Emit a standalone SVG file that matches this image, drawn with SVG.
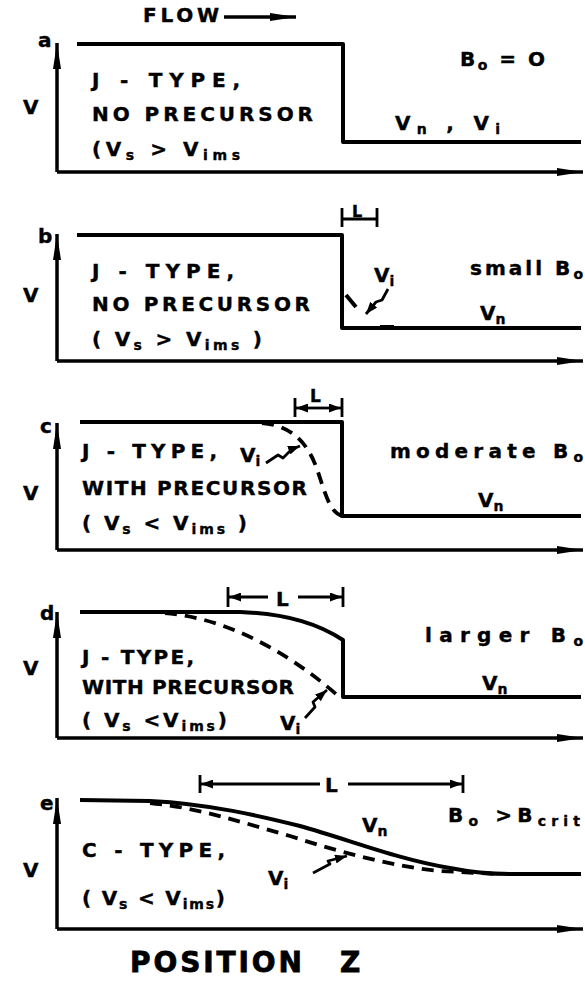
<svg xmlns="http://www.w3.org/2000/svg" width="585" height="981" viewBox="0 0 585 981">
<style>
.ln{fill:none;stroke:#000;stroke-width:4;stroke-linejoin:round}
.ax{fill:none;stroke:#000;stroke-width:3.5}
.ds{fill:none;stroke:#000;stroke-width:3.8;stroke-dasharray:12 8}
.br{fill:none;stroke:#000;stroke-width:2.8}
.ld{fill:none;stroke:#000;stroke-width:2.8;stroke-linejoin:round}
.t{font-family:"DejaVu Sans","Liberation Sans",Arial,sans-serif;font-weight:bold;font-size:20px;fill:#000;stroke:#000;stroke-width:0.4;paint-order:stroke}
.s{font-size:14px}
.big{font-size:28px;stroke-width:0.8}
</style>
<defs>
<marker id="ah" markerUnits="userSpaceOnUse" markerWidth="26" markerHeight="10" refX="26" refY="5" orient="auto"><path d="M0,1 L26,5 L0,9 z"/></marker>
<marker id="sa" markerUnits="userSpaceOnUse" markerWidth="12" markerHeight="9" refX="12" refY="4.5" orient="auto"><path d="M0,0 L12,4.5 L0,9 z"/></marker>
</defs>
<rect width="585" height="981" fill="#fff"/>

<g id="flow">
<text class="t" x="143" y="22" textLength="76" lengthAdjust="spacing">FLOW</text>
<path class="ax" d="M224,17 L296,17" marker-end="url(#ah)"/>
</g>

<g id="panel-a">
<text class="t" x="38" y="47">a</text>
<text class="t" x="23" y="114">V</text>
<text class="t" x="92" y="87" textLength="148" lengthAdjust="spacing">J - TYPE,</text>
<text class="t" x="92" y="121" textLength="221" lengthAdjust="spacing">NO PRECURSOR</text>
<text class="t" x="92" y="156" textLength="148" lengthAdjust="spacing">(V<tspan class="s" dy="4">s</tspan><tspan dy="-4"> &gt; V</tspan><tspan class="s" dy="4">ims</tspan></text>
<text class="t" x="460" y="66" textLength="85" lengthAdjust="spacing">B<tspan class="s" dy="4">o</tspan><tspan dy="-4"> = O</tspan></text>
<text class="t" x="395" y="130" textLength="105" lengthAdjust="spacing">V<tspan class="s" dy="4">n</tspan><tspan dy="-4"> , V</tspan><tspan class="s" dy="4">i</tspan></text>
<path class="ln" d="M77,44 L343,44 L343,142 L581,142"/>
</g>

<g id="panel-b">
<text class="t" x="38" y="243">b</text>
<text class="t" x="23" y="302">V</text>
<text class="t" x="92" y="278" textLength="142" lengthAdjust="spacing">J - TYPE,</text>
<text class="t" x="92" y="311" textLength="218" lengthAdjust="spacing">NO PRECURSOR</text>
<text class="t" x="92" y="346" textLength="170" lengthAdjust="spacing">( V<tspan class="s" dy="4">s</tspan><tspan dy="-4"> &gt; V</tspan><tspan class="s" dy="4">ims</tspan><tspan dy="-4"> )</tspan></text>
<text class="t" x="470" y="275" textLength="113" lengthAdjust="spacing">small B<tspan class="s" dy="4">o</tspan></text>
<text class="t" x="480" y="320">V<tspan class="s" dy="4">n</tspan></text>
<text class="t" x="374" y="282">V<tspan class="s" dy="4">i</tspan></text>
<text class="t" x="352" y="217" style="font-size:16px">L</text>
<path class="br" d="M342,208 L342,227 M377,208 L377,227 M342,219 L377,219"/>
<path class="ln" d="M77,235 L342,235 L342,328 L581,328"/>
<path class="ln" d="M346,295 L356,307"/>
<path class="ld" d="M388,289 L382,300 L376,302 L366,314" marker-end="url(#sa)"/>
<path class="ln" d="M380,327 L394,327"/>
</g>

<g id="panel-c">
<text class="t" x="40" y="433">c</text>
<text class="t" x="23" y="500">V</text>
<text class="t" x="82" y="458" textLength="135" lengthAdjust="spacing">J - TYPE,</text>
<text class="t" x="240" y="462">V<tspan class="s" dy="4">i</tspan></text>
<text class="t" x="82" y="495" textLength="225" lengthAdjust="spacing">WITH PRECURSOR</text>
<text class="t" x="82" y="530" textLength="165" lengthAdjust="spacing">( V<tspan class="s" dy="4">s</tspan><tspan dy="-4"> &lt; V</tspan><tspan class="s" dy="4">ims</tspan><tspan dy="-4"> )</tspan></text>
<text class="t" x="390" y="458" textLength="193" lengthAdjust="spacing">moderate B<tspan class="s" dy="4">o</tspan></text>
<text class="t" x="478" y="507">V<tspan class="s" dy="4">n</tspan></text>
<text class="t" x="310" y="402" style="font-size:17px">L</text>
<path class="br" d="M295,398 L295,417 M342,398 L342,417"/>
<path class="br" d="M318,408 L296,408" marker-end="url(#sa)"/>
<path class="br" d="M318,408 L341,408" marker-end="url(#sa)"/>
<path class="ln" d="M80,422 L342,422 L342,516 L581,516"/>
<path class="ds" d="M262,423 C296,426 310,448 318,472 C326,496 330,512 342,516"/>
<path class="ld" d="M266,463 L278,455 L283,458 L292,449 L300,446" marker-end="url(#sa)"/>
</g>

<g id="panel-d">
<text class="t" x="40" y="620">d</text>
<text class="t" x="23" y="675">V</text>
<text class="t" x="82" y="664" textLength="112" lengthAdjust="spacing">J - TYPE,</text>
<text class="t" x="82" y="694" textLength="212" lengthAdjust="spacing">WITH PRECURSOR</text>
<text class="t" x="82" y="727" textLength="145" lengthAdjust="spacing">( V<tspan class="s" dy="4">s</tspan><tspan dy="-4"> &lt;V</tspan><tspan class="s" dy="4">ims</tspan><tspan dy="-4">)</tspan></text>
<text class="t" x="280" y="730">V<tspan class="s" dy="4">i</tspan></text>
<text class="t" x="425" y="642" textLength="158" lengthAdjust="spacing">larger B<tspan class="s" dy="4">o</tspan></text>
<text class="t" x="482" y="690">V<tspan class="s" dy="4">n</tspan></text>
<text class="t" x="276" y="606">L</text>
<path class="br" d="M228,587 L228,607 M343,587 L343,607"/>
<path class="br" d="M268,597 L229,597" marker-end="url(#sa)"/>
<path class="br" d="M298,597 L342,597" marker-end="url(#sa)"/>
<path class="ln" d="M80,612 L240,612 C290,614 320,625 343,640 L343,697 L581,697"/>
<path class="ds" d="M165,613 C225,618 285,650 336,694"/>
<path class="ld" d="M305,718 L315,707 L313,702 L327,690" marker-end="url(#sa)"/>
</g>

<g id="panel-e">
<text class="t" x="40" y="810">e</text>
<text class="t" x="23" y="877">V</text>
<text class="t" x="82" y="857" textLength="143" lengthAdjust="spacing">C - TYPE,</text>
<text class="t" x="82" y="905" textLength="143" lengthAdjust="spacing">( V<tspan class="s" dy="4">s</tspan><tspan dy="-4"> &lt; V</tspan><tspan class="s" dy="4">ims</tspan><tspan dy="-4">)</tspan></text>
<text class="t" x="268" y="885">V<tspan class="s" dy="4">i</tspan></text>
<text class="t" x="362" y="832">V<tspan class="s" dy="4">n</tspan></text>
<text class="t" x="448" y="822" textLength="132" lengthAdjust="spacing">B<tspan class="s" dy="4">o</tspan><tspan dy="-4"> &gt;B</tspan><tspan class="s" dy="4">crit</tspan></text>
<text class="t" x="325" y="792">L</text>
<path class="br" d="M200,775 L200,793 M463,775 L463,793"/>
<path class="br" d="M320,784 L201,784" marker-end="url(#sa)"/>
<path class="br" d="M348,784 L462,784" marker-end="url(#sa)"/>
<path class="ln" d="M80,800 L150,801 C210,804 260,816 300,826 C350,840 400,860 450,868 C470,872 490,874 510,874 L581,874"/>
<path class="ds" d="M150,803 C200,808 240,822 290,836 C340,852 390,866 440,871 L497,874"/>
<path class="ld" d="M313,873 L330,864 L328,861 L347,856" marker-end="url(#sa)"/>
</g>

<g id="connectors">
<path class="ax" d="M57,172 L57,43" marker-end="url(#ah)"/>
<path class="ax" d="M57,172 L583,172" marker-end="url(#ah)"/>
<path class="ax" d="M57,361 L57,234" marker-end="url(#ah)"/>
<path class="ax" d="M57,361 L583,361" marker-end="url(#ah)"/>
<path class="ax" d="M57,550 L57,423" marker-end="url(#ah)"/>
<path class="ax" d="M57,550 L583,550" marker-end="url(#ah)"/>
<path class="ax" d="M57,738 L57,612" marker-end="url(#ah)"/>
<path class="ax" d="M57,738 L583,738" marker-end="url(#ah)"/>
<path class="ax" d="M57,929 L57,798" marker-end="url(#ah)"/>
<path class="ax" d="M57,929 L583,929" marker-end="url(#ah)"/>
</g>

<text class="t big" x="130" y="972" textLength="172" lengthAdjust="spacing">POSITION</text>
<text class="t big" x="340" y="972">Z</text>
</svg>
